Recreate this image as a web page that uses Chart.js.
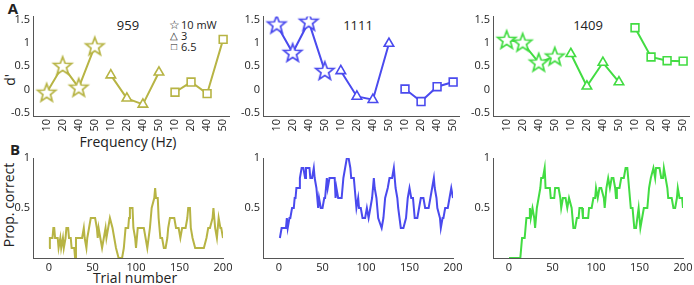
<!DOCTYPE html>
<html>
<head>
<meta charset="utf-8">
<script src="https://cdn.jsdelivr.net/npm/chart.js@4.4.0/dist/chart.umd.min.js"></script>
<style>
body { margin:0; background:#fff; width:694px; height:285px; position:relative; overflow:hidden; font-family:"Open Sans", sans-serif; color:#222; }
canvas { position:absolute; }
.t { position:absolute; white-space:nowrap; transform:translate(-50%,-50%); }
</style>
</head>
<body>
<div class="t" style="left:13px;top:8px;font-weight:bold;font-size:15px">A</div>
<div class="t" style="left:15px;top:149px;font-weight:bold;font-size:15px">B</div>
<div class="t" style="left:9px;top:80px;font-size:14px;transform:translate(-50%,-50%) rotate(-90deg)">d'</div>
<div class="t" style="left:128px;top:141px;font-size:14px">Frequency (Hz)</div>
<div class="t" style="left:8px;top:205px;font-size:14px;transform:translate(-50%,-50%) rotate(-90deg)">Prop. correct</div>
<div class="t" style="left:135px;top:277px;font-size:14px">Trial number</div>
<div class="t" style="left:128px;top:25px;font-size:13px">959</div>
<div class="t" style="left:358px;top:25px;font-size:13px">1111</div>
<div class="t" style="left:588px;top:25px;font-size:13px">1409</div>
<div class="t" style="left:174px;top:24px;font-size:12px">&#9734;</div>
<div class="t" style="left:174px;top:35px;font-size:10px">&#9651;</div>
<div class="t" style="left:174px;top:46px;font-size:10px">&#9633;</div>
<div class="t" style="left:181px;top:24px;font-size:11px;transform:translate(0,-50%)">10 mW</div>
<div class="t" style="left:181px;top:35px;font-size:11px;transform:translate(0,-50%)">3</div>
<div class="t" style="left:181px;top:46px;font-size:11px;transform:translate(0,-50%)">6.5</div>
<script>
// frequency categories (3 powers x 4 frequencies)
const freqLabels = ['10','20','40','50','10','20','40','50','10','20','40','50']
const starX = [1,2,3,4]
const triX = [5,6,7,8]
const sqX = [9,10,11,12]
const colors = ['#b7b444','#4a4aee','#42dc42']

// d' values, panel A
const star959 = [-0.07,0.51,0.04,0.93]
const tri959 = [0.31,-0.19,-0.32,0.37]
const sq959 = [-0.06,0.16,-0.09,1.08]
const star1111 = [1.40,0.79,1.46,0.40]
const tri1111 = [0.40,-0.15,-0.22,0.99]
const sq1111 = [0.01,-0.26,0.06,0.16]
const star1409 = [1.07,1.01,0.58,0.71]
const tri1409 = [0.77,0.07,0.58,0.16]
const sq1409 = [1.33,0.70,0.62,0.61]

// running proportion correct, panel B
const trials959 = [0,1,4,5,6,7,10,11,13,14,16,17,19,20,22,23,25,26,29,30,31,38,40,41,43,44,46,48,53,55,56,57,59,61,63,65,66,68,70,73,75,77,80,84,86,88,91,92,93,96,97,99,100,102,109,111,113,116,118,121,122,123,125,126,128,130,132,134,136,137,139,144,146,149,151,153,157,159,160,162,163,165,168,178,181,183,185,188,189,191,193,195,197,198,200]
const prop959 = [0.1,0.2,0.2,0.3,0.3,0.2,0.2,0.1,0.2,0.1,0.2,0.1,0.2,0.3,0.3,0.2,0.2,0.1,0.1,0.0,0.2,0.2,0.3,0.2,0.1,0.2,0.3,0.4,0.4,0.3,0.2,0.3,0.2,0.1,0.2,0.3,0.2,0.3,0.4,0.3,0.2,0.1,0.0,0.0,0.1,0.3,0.3,0.4,0.5,0.5,0.3,0.2,0.1,0.3,0.3,0.2,0.1,0.3,0.5,0.6,0.7,0.6,0.6,0.4,0.2,0.2,0.1,0.1,0.2,0.3,0.4,0.4,0.3,0.3,0.2,0.3,0.3,0.4,0.5,0.5,0.3,0.2,0.1,0.1,0.2,0.3,0.3,0.4,0.5,0.3,0.2,0.4,0.3,0.3,0.2]
const trials1111 = [1,3,8,9,10,12,13,15,17,18,19,20,23,24,26,28,30,31,35,36,38,40,41,43,45,46,48,50,52,53,55,56,58,64,65,66,68,72,74,76,78,80,82,83,86,88,89,91,92,94,96,99,101,103,105,107,109,110,112,114,118,120,122,125,127,130,132,134,136,137,140,143,146,148,150,152,154,156,159,161,163,166,168,172,174,176,178,179,181,182,185,186,188,189,191,194,196,198,200]
const prop1111 = [0.2,0.3,0.3,0.4,0.3,0.4,0.4,0.5,0.5,0.6,0.6,0.7,0.7,0.8,0.9,0.9,0.8,0.9,0.9,0.8,0.8,0.9,0.8,0.7,0.5,0.6,0.5,0.5,0.6,0.6,0.8,0.7,0.8,0.8,0.6,0.7,0.6,0.6,0.8,0.9,1.0,1.0,0.9,0.8,0.8,0.6,0.5,0.6,0.5,0.5,0.4,0.4,0.5,0.4,0.5,0.6,0.8,0.7,0.6,0.4,0.3,0.4,0.6,0.7,0.8,0.8,0.9,0.7,0.6,0.5,0.3,0.3,0.4,0.6,0.7,0.6,0.6,0.4,0.4,0.5,0.6,0.6,0.5,0.5,0.6,0.7,0.8,0.7,0.6,0.5,0.4,0.3,0.4,0.4,0.5,0.5,0.6,0.7,0.6]
const trials1409 = [0,13,15,18,20,23,24,25,27,29,30,32,34,36,37,39,41,42,47,48,52,53,57,59,60,62,65,67,69,72,74,76,78,80,81,84,85,91,92,95,97,99,100,102,104,106,109,110,112,114,116,118,120,122,123,124,127,129,132,134,136,138,140,142,144,146,149,150,151,153,155,159,161,163,166,168,169,173,175,177,178,180,182,183,187,189,191,193,194,196,199,200]
const prop1409 = [0,0,0.2,0.2,0.4,0.4,0.5,0.4,0.5,0.4,0.3,0.5,0.6,0.7,0.8,0.8,0.9,0.7,0.7,0.6,0.6,0.7,0.7,0.6,0.5,0.6,0.6,0.5,0.6,0.5,0.3,0.3,0.4,0.4,0.5,0.5,0.4,0.4,0.5,0.5,0.6,0.6,0.7,0.6,0.7,0.7,0.6,0.5,0.7,0.8,0.7,0.8,0.8,0.7,0.6,0.7,0.7,0.8,0.8,0.9,0.9,0.7,0.5,0.5,0.3,0.3,0.5,0.4,0.3,0.4,0.5,0.5,0.7,0.8,0.9,0.8,0.9,0.9,0.8,0.8,0.9,0.8,0.7,0.6,0.6,0.5,0.5,0.6,0.7,0.6,0.6,0.5]

const dPrime = [[star959,tri959,sq959],[star1111,tri1111,sq1111],[star1409,tri1409,sq1409]]
const trialSets = [trials959,trials1111,trials1409]
const propSets = [prop959,prop1111,prop1409]
const axisLeft = [33,263,493]

const tickFont = {size:11, family:'Open Sans'}
const axisColor = '#555'
const noGrid = {display:false, drawTicks:false, tickLength:0}

// hollow five-point star used as marker
function makeStar(color) {
  let c = document.createElement('canvas')
  c.width = 24; c.height = 24
  let g = c.getContext('2d')
  g.beginPath()
  for (let i = 0; i < 10; i++) {
    let r = i % 2 == 0 ? 9.5 : 4
    let a = -Math.PI/2 + i*Math.PI/5
    let px = 12 + r*Math.cos(a), py = 12.5 + r*Math.sin(a)
    if (i == 0) g.moveTo(px, py); else g.lineTo(px, py)
  }
  g.closePath()
  g.fillStyle = '#fff'
  g.fill()
  g.lineWidth = 1.7
  g.strokeStyle = color
  g.stroke()
  return c
}

function addCanvas(left, top, w, h) {
  let c = document.createElement('canvas')
  c.width = w; c.height = h
  c.style.left = left + 'px'; c.style.top = top + 'px'
  c.style.width = w + 'px'; c.style.height = h + 'px'
  document.body.appendChild(c)
  return c.getContext('2d')
}

function pts(xs, ys) { return xs.map((x,i) => ({x:x, y:ys[i]})) }

function baseOpts(padRight) {
  return {
    responsive:false, animation:false, events:[],
    layout:{padding:{top:10, right:padRight, left:0, bottom:0}},
    plugins:{legend:{display:false}, tooltip:{enabled:false}},
  }
}

for (let p = 0; p < 3; p++) {
  let col = colors[p]
  let [st, tr, sq] = dPrime[p]
  let common = {borderColor:col, borderWidth:2, pointBackgroundColor:'#fff', pointBorderColor:col, pointBorderWidth:1.6, tension:0}
  let opts = baseOpts(10)
  opts.scales = {
    x:{type:'linear', min:0.15, max:12.39,
      grid:noGrid, border:{color:axisColor, width:1},
      afterBuildTicks: s => { s.ticks = freqLabels.map((l,i) => ({value:i+1})) },
      ticks:{minRotation:90, maxRotation:90, autoSkip:false, padding:3, color:'#222', font:tickFont,
        callback: v => freqLabels[Math.round(v)-1]},
      afterFit: s => { s.height = 20 }},
    y:{min:-0.571, max:1.57,
      grid:noGrid, border:{color:axisColor, width:1},
      afterBuildTicks: s => { s.ticks = [-0.5,0,0.5,1,1.5].map(v => ({value:v})) },
      ticks:{padding:3, color:'#222', font:tickFont, callback: v => String(v)},
      afterFit: s => { s.width = 33 }}
  }
  new Chart(addCanvas(axisLeft[p]-33, 6, 240, 130), {
    type:'line',
    data:{datasets:[
      Object.assign({data:pts(starX, st), pointStyle:makeStar(col), pointRadius:9}, common),
      Object.assign({data:pts(triX, tr), pointStyle:'triangle', pointRadius:5.5}, common),
      Object.assign({data:pts(sqX, sq), pointStyle:'rect', pointRadius:5.5}, common)
    ]},
    options:opts
  })

  let opts2 = baseOpts(17)
  opts2.scales = {
    x:{type:'linear', min:-18.4, max:200,
      grid:noGrid, border:{color:axisColor, width:1},
      afterBuildTicks: s => { s.ticks = [0,50,100,150,200].map(v => ({value:v})) },
      ticks:{maxRotation:0, autoSkip:false, padding:3, color:'#222', font:tickFont},
      afterFit: s => { s.height = 20 }},
    y:{min:0, max:1,
      grid:noGrid, border:{color:axisColor, width:1},
      afterBuildTicks: s => { s.ticks = [0.5,1].map(v => ({value:v})) },
      ticks:{padding:3, color:'#222', font:tickFont, callback: v => String(v)},
      afterFit: s => { s.width = 33 }}
  }
  new Chart(addCanvas(axisLeft[p]-33, 148, 240, 130), {
    type:'line',
    data:{datasets:[{data:pts(trialSets[p], propSets[p]), borderColor:col, borderWidth:2, pointRadius:0, tension:0}]},
    options:opts2
  })
}
</script>
</body>
</html>
